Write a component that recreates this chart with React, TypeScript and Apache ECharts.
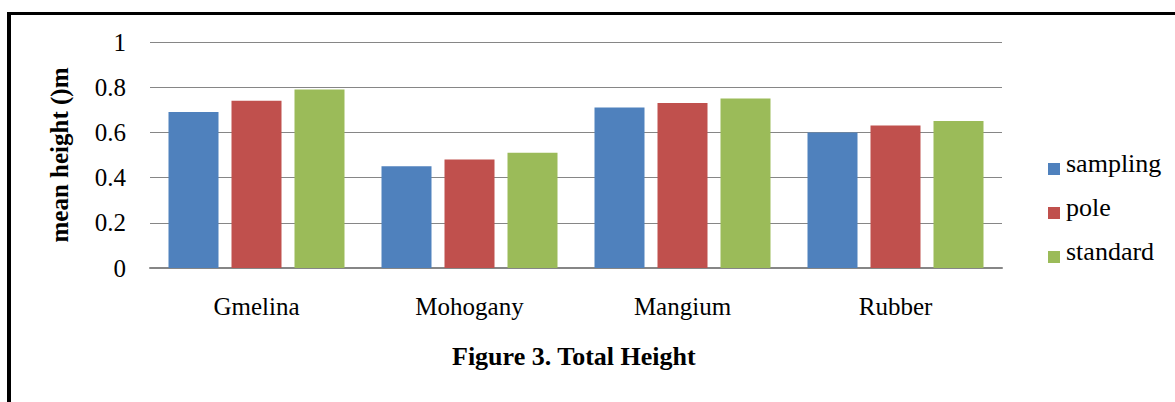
import React, { useEffect, useRef } from "react";
import * as echarts from "echarts";

const categories = ["Gmelina", "Mohogany", "Mangium", "Rubber"];
const seriesNames = ["sampling", "pole", "standard"];
const sampling = [0.69, 0.45, 0.71, 0.6];
const pole = [0.74, 0.48, 0.73, 0.63];
const standard = [0.79, 0.51, 0.75, 0.65];
const colors = ["#4F81BD", "#C0504D", "#9BBB59"];
const yTicks = { min: 0, max: 1, interval: 0.2 };
const yTitle = "mean height ()m";
const figTitle = "Figure 3. Total Height";

const FONT = "Liberation Serif";

export default function App() {
  const ref = useRef<HTMLDivElement>(null);
  useEffect(() => {
    if (!ref.current) return;
    const chart = echarts.init(ref.current, undefined, { renderer: "svg" });
    const values = [sampling, pole, standard];
    const legendTop = 158;
    const legendStep = 44;
    chart.setOption({
      animation: false,
      backgroundColor: "#ffffff",
      textStyle: { fontFamily: FONT, color: "#000" },
      grid: { left: 150, right: 173, top: 42, bottom: 134, containLabel: false },
      title: [
        {
          text: figTitle,
          left: 447,
          top: 338,
          textStyle: { fontFamily: FONT, fontSize: 26, fontWeight: "bold", color: "#000" },
        },
        ...seriesNames.map((name, i) => ({
          text: name,
          left: 1061,
          top: legendTop + 6 - 13 - 6 + i * legendStep,
          textStyle: { fontFamily: FONT, fontSize: 26, fontWeight: "normal", color: "#000" },
        })),
      ],
      legend: {
        orient: "vertical",
        left: 1043,
        top: legendTop,
        itemWidth: 12,
        itemHeight: 12,
        itemGap: legendStep - 12,
        icon: "rect",
        data: seriesNames,
        formatter: () => "",
        textStyle: { fontSize: 12, padding: 0 },
      },
      xAxis: {
        type: "category",
        data: categories,
        axisTick: { show: false },
        axisLine: { lineStyle: { color: "#868686", width: 2 } },
        axisLabel: { fontFamily: FONT, fontSize: 25, color: "#000", margin: 26 },
      },
      yAxis: {
        type: "value",
        min: yTicks.min,
        max: yTicks.max,
        interval: yTicks.interval,
        name: yTitle,
        nameLocation: "middle",
        nameGap: 78,
        nameRotate: 90,
        nameTextStyle: { fontFamily: FONT, fontSize: 25, fontWeight: "bold", color: "#000" },
        axisLine: { show: false },
        axisTick: { show: false },
        splitLine: { lineStyle: { color: "#868686", width: 1 } },
        axisLabel: {
          fontFamily: FONT,
          fontSize: 25,
          color: "#000",
          margin: 24,
          formatter: (v: number) => String(Math.round(v * 10) / 10),
        },
      },
      series: seriesNames.map((name, i) => ({
        name,
        type: "bar",
        data: values[i],
        barWidth: 50,
        barGap: "26%",
        itemStyle: { color: colors[i] },
      })),
      graphic: [
        { type: "rect", left: 7, top: 12, shape: { width: 1168, height: 3 }, style: { fill: "#000" } },
        { type: "rect", left: 7, top: 12, shape: { width: 4, height: 390 }, style: { fill: "#000" } },
      ],
    });
    return () => chart.dispose();
  }, []);
  return (
    <div
      ref={ref}
      style={{ position: "fixed", left: 0, top: 0, width: 1175, height: 402 }}
    />
  );
}
